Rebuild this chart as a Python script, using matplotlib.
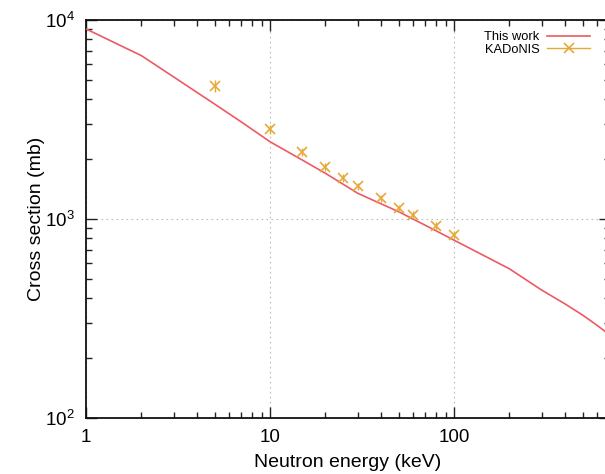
import numpy as np
import matplotlib
matplotlib.use("Agg")
import matplotlib.pyplot as plt
from matplotlib.lines import Line2D
from matplotlib.ticker import LogLocator, NullFormatter

plt.rcParams["font.family"] = ["Liberation Sans", "DejaVu Sans"]
plt.rcParams["mathtext.fontset"] = "custom"
plt.rcParams["mathtext.rm"] = "Liberation Sans"

# "This work" calculated cross section (keV, mb)
calc_energy = [1, 2, 3, 5, 7, 10, 15, 20, 30, 50, 70, 100, 150, 200, 300, 400, 500, 600, 700]
calc_xs = [9020, 6620, 5170, 3780, 3070, 2445, 1977, 1697, 1346, 1088, 929, 783,
           645, 562, 439, 375, 329, 292, 262]

# KADoNIS values (keV, mb)
kad_energy = [5, 10, 15, 20, 25, 30, 40, 50, 60, 80, 100]
kad_xs = [4660, 2834, 2178, 1832, 1613, 1465, 1270, 1131, 1047, 922, 830]
kad_err = [330, 150, 100, 80, 70, 60, 55, 50, 45, 40, 40]

x_ticks = [1, 10, 100]
x_tick_labels = ["1", "10", "100"]

red = "#ec5a64"
gold = "#e6a838"

fig = plt.figure(figsize=(6.05, 4.74), dpi=100)
ax = fig.add_axes([86 / 605, 1 - 418 / 474, (609.5 - 86) / 605, (418 - 20) / 474])

ax.plot(calc_energy, calc_xs, color=red, lw=1.2, zorder=3)
ax.errorbar(kad_energy, kad_xs, yerr=kad_err, fmt="x", color=gold, ecolor=gold,
            ms=7, mew=1.2, elinewidth=1.0, capsize=0, zorder=4)

ax.set_xscale("log")
ax.set_yscale("log")
ax.set_xlim(1, 700)
ax.set_ylim(100, 10000)

ax.set_xticks(x_ticks)
ax.set_xticklabels(x_tick_labels)
ax.xaxis.set_minor_locator(LogLocator(base=10, subs=np.arange(2, 10)))
ax.xaxis.set_minor_formatter(NullFormatter())
ax.yaxis.set_major_locator(LogLocator(base=10))
ax.yaxis.set_minor_locator(LogLocator(base=10, subs=np.arange(2, 10)))
ax.yaxis.set_minor_formatter(NullFormatter())

ax.tick_params(which="both", direction="in", top=True, right=True, labelsize=13.5,
               color="#222222", width=1.0)
ax.tick_params(which="major", length=8, pad=8)
ax.tick_params(which="minor", length=4)
for s in ax.spines.values():
    s.set_linewidth(1.3)
    s.set_color("#111111")

ax.grid(True, which="major", ls=(0, (1.5, 3)), color="#bbbbbb", lw=0.8)

ax.set_xlabel("Neutron energy (keV)", fontsize=14, labelpad=6)
ax.set_ylabel("Cross section (mb)", fontsize=14, labelpad=0)

# gnuplot-style key: line sample for both entries, cross drawn on the KADoNIS line
handles = [Line2D([], [], color=red, lw=1.2),
           Line2D([], [], color=gold, lw=1.0, marker="x", ms=7, mew=1.2)]
leg = ax.legend(handles, ["This work", "KADoNIS"], loc="upper right",
                bbox_to_anchor=(590 / 605, 1 - 31 / 474),
                bbox_transform=fig.transFigure, frameon=False, markerfirst=False,
                numpoints=1, fontsize=9.3, handlelength=3.3, handletextpad=0.6,
                labelspacing=0.05, borderpad=0, borderaxespad=0)
for t in leg.get_texts():
    t.set_ha("right")

fig.savefig("out.png", dpi=100)
